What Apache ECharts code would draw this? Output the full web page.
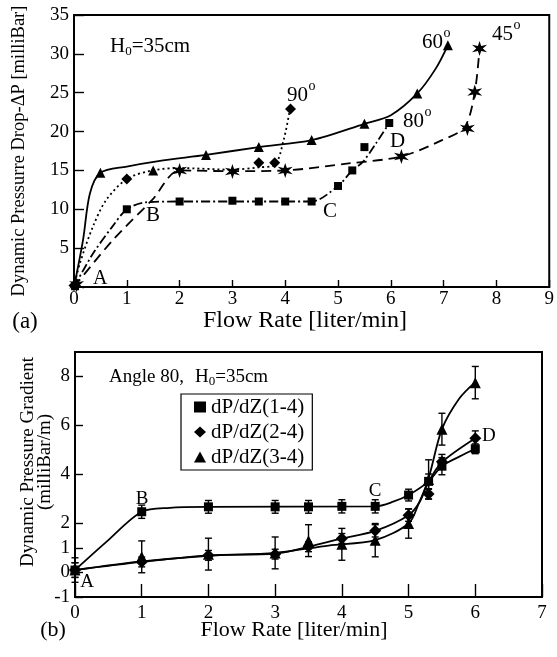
<!DOCTYPE html>
<html><head><meta charset="utf-8">
<script src="https://cdn.jsdelivr.net/npm/echarts@6/dist/echarts.min.js"></script>
<style>html,body{margin:0;padding:0;background:#fff}#c{width:557px;height:657px}</style>
</head><body><div id="c"></div>
<script>
// ===== Panel (a): Dynamic pressure drop vs flow rate =====
const ticksAX = [0,1,2,3,4,5,6,7,8,9];
const ticksAY = [0,5,10,15,20,25,30,35];
// measured markers
const pts60 = [[0.5,14.7],[1.5,15],[2.5,17],[3.5,18],[4.5,18.9],[5.5,21],[6.5,24.9],[7.08,31.1]];
const pts90 = [[0,0.2],[1,13.9],[3.5,16],[3.8,16],[4.1,22.9]];
const pts80 = [[0.02,0.1],[1,10],[2,11],[3,11.1],[3.5,11],[4,11],[4.5,11],[5,13],[5.27,15],[5.5,18],[5.97,21.1]];
const pts45 = [[0.05,0.3],[2,15],[3,14.85],[4,15],[6.2,16.8],[7.45,20.4],[7.59,25.1],[7.68,30.7]];
// fitted curves (as drawn in the figure)
const fit60 = [[0,0],[0.17,6],[0.3,12],[0.5,14.7],[1,15.5],[1.6,16.2],[2.5,17],[3.5,18],[4.5,18.9],[5.5,21],[6,22.1],[6.5,24.9],[6.85,28.1],[7.08,31.1]];
const fit90 = [[0,0],[0.11,3],[0.36,7.8],[0.61,11.2],[1,13.9],[1.48,15],[2,15.3],[3,15.1],[3.5,15.4],[3.8,15.7],[3.97,18.9],[4.09,22.9]];
const fit80 = [[0,0],[0.36,4.3],[0.73,7.8],[1,10],[1.36,10.9],[2,11],[3,11],[4,11],[4.5,11],[5,13],[5.27,15],[5.47,16.1],[5.72,18.5],[5.97,21.1]];
const fit45 = [[0,0],[0.73,6],[1.48,11.2],[2,15],[3,14.9],[4,15],[5.2,15.9],[6.2,16.8],[6.97,18.9],[7.4,20.6],[7.59,25.1],[7.68,30.7]];

// ===== Panel (b): Dynamic pressure gradient, angle 80 =====
const ticksBX = [0,1,2,3,4,5,6,7];
const ticksBY = [-1,0,1,2,4,6,8];
const names = ['dP/dZ(1-4)','dP/dZ(2-4)','dP/dZ(3-4)'];
const ptsB1 = [[0,0.1],[1,2.48],[2,2.68],[3,2.68],[3.5,2.68],[4,2.7],[4.5,2.7],[5,3.16],[5.3,3.72],[5.5,4.34],[6,5.05]];
const errB1 = [0.3,0.27,0.26,0.26,0.26,0.27,0.27,0.24,0.3,0.35,0.2];
const ptsB2 = [[0,0.1],[1,0.43],[2,0.7],[3,0.75],[3.5,1.05],[4,1.39],[4.5,1.7],[5,2.34],[5.3,3.2],[5.5,4.52],[6,5.48]];
const errB2 = [0.3,0.2,0.2,0.2,0.2,0.2,0.25,0.25,0.2,0.3,0.3];
const ptsB3 = [[0,0.1],[1,0.64],[2,0.75],[3,0.8],[3.5,1.3],[4,1.15],[4.5,1.32],[5,2.0],[5.3,3.8],[5.5,5.85],[6,7.75]];
const errB3 = [0.5,0.65,0.65,0.65,0.65,0.65,0.68,0.6,0.8,0.65,0.66];
const fitB1 = [[0,0.1],[0.47,1.25],[1,2.48],[1.42,2.64],[2,2.68],[4.5,2.7],[4.77,2.89],[5,3.16],[5.3,3.72],[5.5,4.34],[5.76,4.73],[6,5.05]];
const fitB2 = [[0,0.1],[1,0.43],[2,0.7],[3,0.77],[3.5,1.05],[4,1.39],[4.5,1.7],[5,2.34],[5.17,2.9],[5.3,3.7],[5.5,4.5],[6,5.48]];
const fitB3 = [[0,0.1],[1,0.45],[2,0.68],[3,0.8],[3.8,1.1],[4.5,1.32],[5,2.0],[5.15,2.8],[5.3,3.85],[5.5,5.85],[5.76,7.1],[6,7.77]];

const FF = '"Liberation Serif", "Times New Roman", serif';
const ctx = document.createElement('canvas').getContext('2d');
function tw(t, s){ ctx.font = s + 'px ' + FF; return ctx.measureText(t).width; }

function starPath(n, rIn){
  let d = '';
  for (let i = 0; i < 2*n; i++){
    const r = i % 2 ? rIn : 1;
    const a = Math.PI/2 + i*Math.PI/n;
    d += (i ? 'L' : 'M') + (50 + 50*r*Math.cos(a)).toFixed(1) + ' ' + (50 - 50*r*Math.sin(a)).toFixed(1) + ' ';
  }
  return 'path://' + d + 'Z';
}
const STAR = starPath(6, 0.38);

function fitLine(data, idx, type){
  return {type:'line', data, xAxisIndex:idx, yAxisIndex:idx, showSymbol:false, symbol:'none',
    smooth:0.3, silent:true, z:2,
    lineStyle:{color:'#000', width:1.8, type:type || 'solid', cap:'butt'}};
}
function marks(data, idx, symbol, size, name){
  const s = {type:'scatter', data, xAxisIndex:idx, yAxisIndex:idx, symbol, symbolSize:size, silent:true, z:4,
    itemStyle:{color:'#000', opacity:1}};
  if (name) s.name = name;
  return s;
}
function errBars(pts, errs, idx){
  return {type:'custom', xAxisIndex:idx, yAxisIndex:idx, silent:true, z:3,
    data: pts.map((p,i)=>[p[0],p[1],errs[i]]),
    renderItem:(params, api)=>{
      const x = api.value(0), y = api.value(1), e = api.value(2);
      const t = api.coord([x, y+e]), b = api.coord([x, y-e]);
      const w = 3.5, st = {stroke:'#000', lineWidth:1.4};
      return {type:'group', children:[
        {type:'line', shape:{x1:t[0],y1:t[1],x2:b[0],y2:b[1]}, style:st},
        {type:'line', shape:{x1:t[0]-w,y1:t[1],x2:t[0]+w,y2:t[1]}, style:st},
        {type:'line', shape:{x1:b[0]-w,y1:b[1],x2:b[0]+w,y2:b[1]}, style:st}]};
    }};
}

const graphics = [];
function txt(t, x, y, s, align, extra){
  graphics.push(Object.assign({type:'text', x, y, silent:true,
    style:{text:t, font:s+'px '+FF, fill:'#000', textAlign:align||'left', textVerticalAlign:'middle'}}, extra||{}));
}
function deg(t, x, y, s){ txt(t, x, y, s); txt('o', x + tw(t, s) + 0.5, y - 9, 14); }
function h0(prefix, x, y, s){
  txt(prefix + 'H', x, y, s);
  const x1 = x + tw(prefix + 'H', s);
  txt('0', x1, y + 5, 13);
  txt('=35cm', x1 + tw('0', 13), y, s);
}

// panel (a) annotations
h0('', 110, 46.5, 21);
deg('90', 287, 95, 21);
deg('60', 422, 42.5, 21);
deg('45', 492, 34, 21);
deg('80', 403, 121.5, 21);
txt('D', 390, 141.5, 21);
txt('C', 323, 211.5, 21);
txt('B', 146, 215, 21);
txt('A', 93, 278.5, 20);
txt('(a)', 25, 322, 23, 'center');
txt('Flow Rate [liter/min]', 305, 321, 24, 'center');
txt('Dynamic Pressurre Drop-\u0394P [milliBar]', 19.5, 151, 18.5, 'center', {rotation: Math.PI/2});
// panel (b) annotations
txt('Angle 80,', 109, 377, 19);
h0('', 195, 377, 19);
txt('B', 142, 499, 19, 'center');
txt('A', 87, 582, 19, 'center');
txt('C', 375, 491, 19, 'center');
txt('D', 482, 436, 19);
txt('(b)', 53, 630, 22, 'center');
txt('Flow Rate [liter/min]', 294, 630, 22, 'center');
graphics.push({type:'text', x:37, y:462, rotation:Math.PI/2, silent:true,
  style:{text:'Dynamic Pressure Gradient\n(milliBar/m)', font:'19px '+FF, fill:'#000', textAlign:'center', textVerticalAlign:'middle', lineHeight:17}});

const axisCommon = {
  axisLine:{show:true, onZero:false, lineStyle:{color:'#000', width:2}},
  splitLine:{show:false},
};

const chart = echarts.init(document.getElementById('c'), null, {renderer:'canvas'});
chart.setOption({
  backgroundColor:'#fff',
  animation:false,
  grid:[
    {left:74, top:15, width:481, height:272, show:true, borderColor:'#000', borderWidth:2, backgroundColor:'transparent'},
    {left:75, top:352, width:467, height:245, show:true, borderColor:'#000', borderWidth:2, backgroundColor:'transparent'}
  ],
  xAxis:[
    Object.assign({type:'value', gridIndex:0, min:ticksAX[0], max:ticksAX[ticksAX.length-1], interval:1,
      axisTick:{show:true, inside:true, length:7, lineStyle:{color:'#000', width:1.4}},
      axisLabel:{margin:3, color:'#000', fontFamily:FF, fontSize:19}}, axisCommon),
    Object.assign({type:'value', gridIndex:1, min:ticksBX[0], max:ticksBX[ticksBX.length-1], interval:1,
      axisTick:{show:true, inside:true, length:13, lineStyle:{color:'#000', width:1.4}},
      axisLabel:{margin:7, color:'#000', fontFamily:FF, fontSize:19}}, axisCommon)
  ],
  yAxis:[
    Object.assign({type:'value', gridIndex:0, min:ticksAY[0], max:ticksAY[ticksAY.length-1], interval:5,
      axisTick:{show:true, inside:true, length:10, lineStyle:{color:'#000', width:1.4}},
      axisLabel:{margin:5, color:'#000', fontFamily:FF, fontSize:19, showMinLabel:false}}, axisCommon),
    Object.assign({type:'value', gridIndex:1, min:-1, max:9, interval:1,
      axisTick:{show:true, inside:true, length:8, customValues:ticksBY, lineStyle:{color:'#000', width:1.4}},
      axisLabel:{margin:5, color:'#000', fontFamily:FF, fontSize:19, customValues:ticksBY}}, axisCommon)
  ],
  legend:{
    data:names, orient:'vertical', left:181, top:394, padding:[2.5,8,2.5,13], itemGap:4,
    itemWidth:12, itemHeight:11, borderColor:'#000', borderWidth:1.2, backgroundColor:'#fff',
    selectedMode:false,
    textStyle:{fontFamily:FF, fontSize:21, color:'#000', lineHeight:20}
  },
  graphic: graphics,
  series:[
    fitLine(fit60, 0, 'solid'),
    fitLine(fit90, 0, [2,3]),
    fitLine(fit80, 0, [9,3,2,3]),
    fitLine(fit45, 0, [10,6]),
    marks(pts60, 0, 'triangle', 10),
    marks(pts90, 0, 'diamond', 11),
    marks(pts80, 0, 'rect', 8),
    marks(pts45, 0, STAR, 15),
    fitLine(fitB1, 1),
    fitLine(fitB2, 1),
    fitLine(fitB3, 1),
    errBars(ptsB1, errB1, 1),
    errBars(ptsB2, errB2, 1),
    errBars(ptsB3, errB3, 1),
    marks(ptsB1, 1, 'rect', 9, names[0]),
    marks(ptsB2, 1, 'diamond', 12, names[1]),
    marks(ptsB3, 1, 'triangle', 11, names[2])
  ]
});
</script>
</body></html>
